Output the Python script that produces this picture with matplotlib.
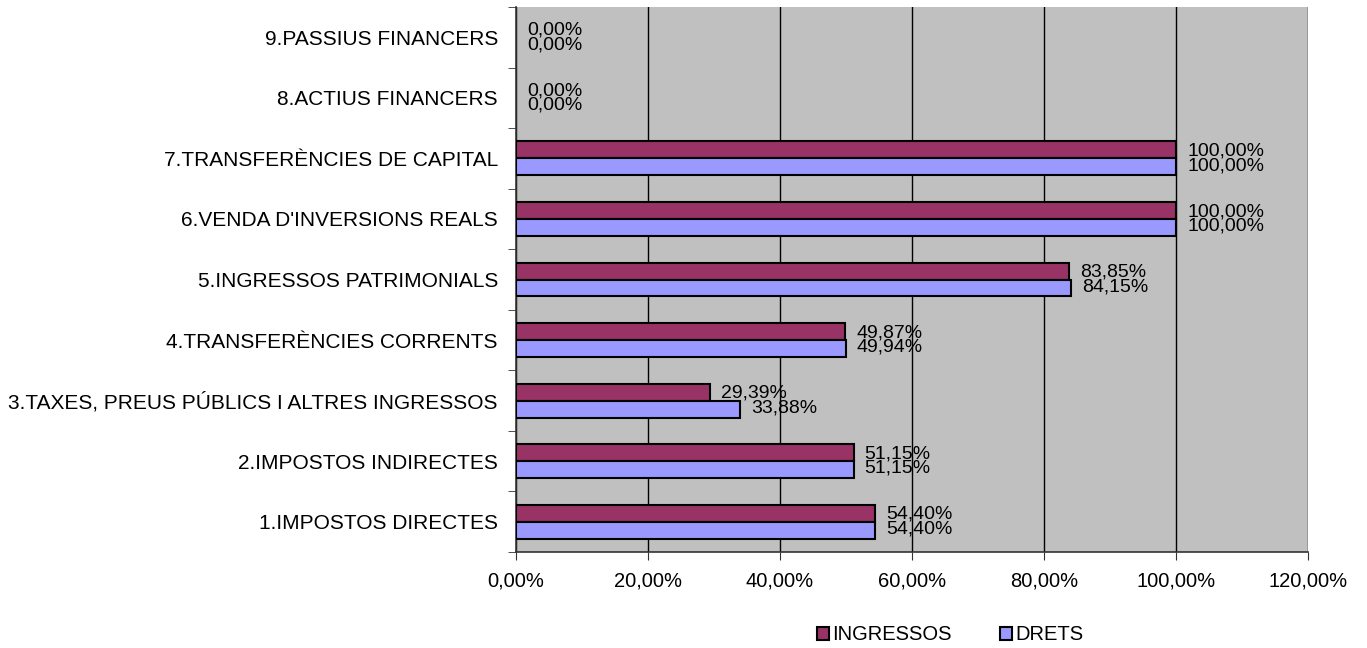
import numpy as np
import matplotlib
matplotlib.use('Agg')
import matplotlib.pyplot as plt
from matplotlib.ticker import FuncFormatter, FixedLocator

plt.rcParams['font.family'] = ['Liberation Sans', 'DejaVu Sans']

# Data
categories = ['1.IMPOSTOS DIRECTES', '2.IMPOSTOS INDIRECTES',
              '3.TAXES, PREUS PÚBLICS I ALTRES INGRESSOS',
              '4.TRANSFERÈNCIES CORRENTS', '5.INGRESSOS PATRIMONIALS',
              "6.VENDA D'INVERSIONS REALS", '7.TRANSFERÈNCIES DE CAPITAL',
              '8.ACTIUS FINANCERS', '9.PASSIUS FINANCERS']
ingressos = [54.40, 51.15, 29.39, 49.87, 83.85, 100.00, 100.00, 0.00, 0.00]
drets = [54.40, 51.15, 33.88, 49.94, 84.15, 100.00, 100.00, 0.00, 0.00]
xticks = [0, 20, 40, 60, 80, 100, 120]

def pct(v):
    return '{:.2f}%'.format(v).replace('.', ',')

fig = plt.figure(figsize=(13.67, 6.48), dpi=100)
ax = fig.add_axes([516/1367, 1-552/648, (1308-516)/1367, (552-7)/648])
ax.set_facecolor('#C0C0C0')

y = np.arange(len(categories))
h = 0.28
lw1 = [1.5 if v > 0 else 0 for v in ingressos]
lw2 = [1.5 if v > 0 else 0 for v in drets]
b1 = ax.barh(y + h/2, ingressos, height=h, color='#993366', edgecolor='black',
             linewidth=lw1, label='INGRESSOS', zorder=3)
b2 = ax.barh(y - h/2, drets, height=h, color='#9999FF', edgecolor='black',
             linewidth=lw2, label='DRETS', zorder=3)

for i in range(len(categories)):
    ax.annotate(pct(ingressos[i]), (ingressos[i], y[i] + h/2 - 0.02),
                xytext=(8, 0), textcoords='offset points', va='center',
                ha='left', fontsize=14)
    ax.annotate(pct(drets[i]), (drets[i], y[i] - h/2 + 0.02),
                xytext=(8, 0), textcoords='offset points', va='center',
                ha='left', fontsize=14)

ax.set_xlim(0, 120)
ax.set_ylim(-0.5, len(categories) - 0.5)
ax.set_xticks(xticks)
ax.xaxis.set_major_formatter(FuncFormatter(lambda v, p: pct(v)))
ax.grid(axis='x', color='black', linewidth=1, zorder=1)
ax.set_axisbelow(True)

ax.set_yticks(y)
ax.set_yticklabels(categories, fontsize=15)
ax.yaxis.set_minor_locator(FixedLocator(np.arange(-0.5, len(categories), 1)))
ax.tick_params(axis='y', which='major', length=0, pad=13)
ax.tick_params(axis='y', which='minor', length=6, direction='out', color='#333333')
ax.tick_params(axis='x', length=6, direction='out', labelsize=14.5, pad=8, color='#333333')

for s in ['top', 'right']:
    ax.spines[s].set_visible(False)
ax.spines['left'].set_color('#333333')
ax.spines['bottom'].set_color('#333333')
ax.spines['left'].set_linewidth(1.2)
ax.spines['bottom'].set_linewidth(1.2)

leg = fig.legend(handles=[b1, b2], loc='center', bbox_to_anchor=(950/1367, 1-635/648),
                 ncol=2, frameon=False, fontsize=14.5, handlelength=0.6,
                 handleheight=0.6, handletextpad=0.15, columnspacing=2.4)

fig.savefig('out.png', dpi=100)
